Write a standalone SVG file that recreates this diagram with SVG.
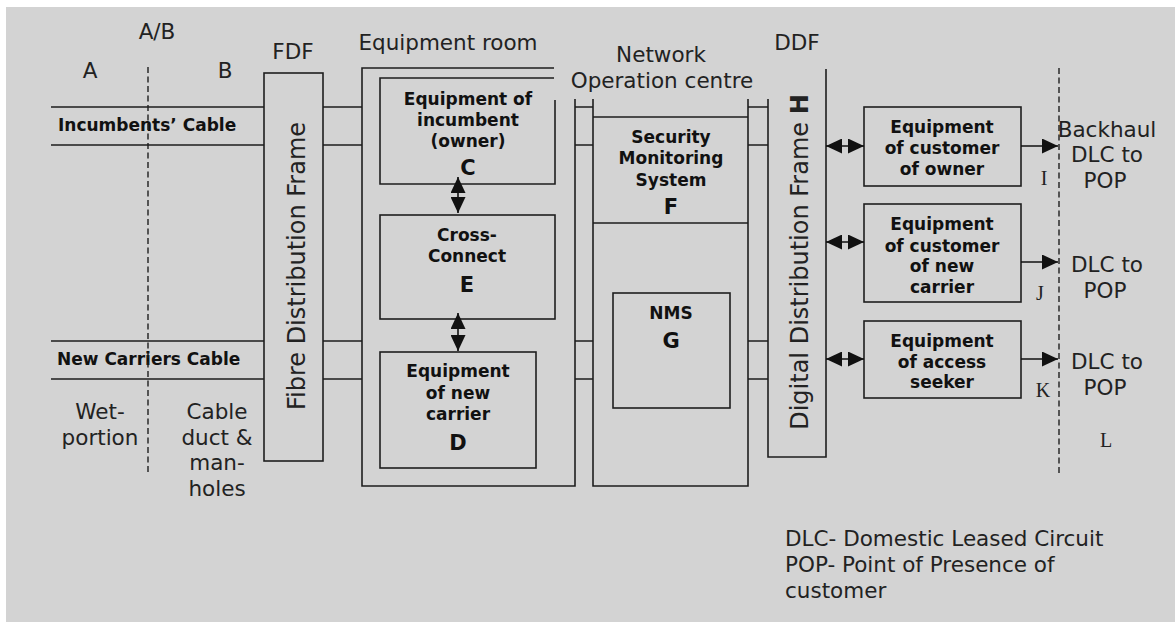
<svg xmlns="http://www.w3.org/2000/svg" width="1175" height="622" viewBox="0 0 1175 622">
<style>
.ln{fill:none;stroke:#1e1e1e;stroke-width:1.6}
.dash{fill:none;stroke:#1e1e1e;stroke-width:1.4;stroke-dasharray:6,3.5}
.lab{font-family:"DejaVu Sans",Verdana,sans-serif;font-size:21.5px;fill:#222}
.bx{font-family:"DejaVu Sans",Verdana,sans-serif;font-size:17px;font-weight:bold;fill:#111;text-anchor:middle}
.big{font-family:"DejaVu Sans",Verdana,sans-serif;font-size:21px;font-weight:bold;fill:#111;text-anchor:middle}
.ser{font-family:"Liberation Serif","Times New Roman",serif;font-size:20px;fill:#222;text-anchor:middle}
.mid{text-anchor:middle}
.vt{font-family:"DejaVu Sans",Verdana,sans-serif;font-size:24px;fill:#222;text-anchor:middle}
.arr{fill:none;stroke:#111;stroke-width:1.6}
</style>
<defs>
<marker id="ah" markerUnits="userSpaceOnUse" viewBox="0 0 16 15" refX="16" refY="7.5" markerWidth="16" markerHeight="15" orient="auto-start-reverse">
<path d="M0,0 L16,7.5 L0,15 z" fill="#111"/>
</marker>
</defs>
<rect x="6" y="7" width="1169" height="615" fill="#d3d3d3"/>

<g id="boundary-AB">
<text class="lab mid" x="157" y="39">A/B</text>
<text class="lab mid" x="90" y="78">A</text>
<text class="lab mid" x="225" y="78">B</text>
<text class="lab mid" x="100" y="419">Wet-</text>
<text class="lab mid" x="100" y="445">portion</text>
<text class="lab mid" x="217" y="419">Cable</text>
<text class="lab mid" x="217" y="445">duct &amp;</text>
<text class="lab mid" x="217" y="470">man-</text>
<text class="lab mid" x="217" y="496">holes</text>
</g>

<g id="cable-incumbent">
<path class="ln" d="M51,107 H264 M51,145 H264"/>
<text class="bx" style="text-anchor:start" x="58" y="131">Incumbents’ Cable</text>
</g>

<g id="cable-new">
<path class="ln" d="M51,341 H264 M51,379 H264"/>
<text class="bx" style="text-anchor:start" x="57" y="365">New Carriers Cable</text>
</g>

<g id="boundary-line-AB">
<path class="dash" d="M148,67 V475"/>
</g>

<g id="fdf">
<text class="lab mid" x="293" y="59">FDF</text>
<rect class="ln" x="264" y="73" width="59" height="388"/>
<text class="vt" transform="translate(305,266) rotate(-90)">Fibre Distribution Frame</text>
</g>

<g id="equipment-room">
<text class="lab mid" x="448" y="50">Equipment room</text>
<path class="ln" d="M554,68 H362 V486 H575 V99"/>
</g>

<g id="node-C">
<path class="ln" d="M554,78 H380 V184 H555 V100"/>
<text class="bx" x="468" y="105">Equipment of</text>
<text class="bx" x="468" y="126">incumbent</text>
<text class="bx" x="468" y="147">(owner)</text>
<text class="big" x="468" y="175">C</text>
</g>

<g id="node-E">
<rect class="ln" x="380" y="215" width="175" height="104"/>
<text class="bx" x="467" y="241">Cross-</text>
<text class="bx" x="467" y="262">Connect</text>
<text class="big" x="467" y="292">E</text>
</g>

<g id="node-D">
<rect class="ln" x="380" y="352" width="156" height="116"/>
<text class="bx" x="458" y="377">Equipment</text>
<text class="bx" x="458" y="399">of new</text>
<text class="bx" x="458" y="420">carrier</text>
<text class="big" x="458" y="450">D</text>
</g>

<g id="noc">
<text class="lab mid" x="661" y="62">Network</text>
<text class="lab mid" x="662" y="88">Operation centre</text>
<path class="ln" d="M593,99 V486 H748 V99"/>
</g>

<g id="node-F">
<path class="ln" d="M593,117 H748 M593,223 H748"/>
<text class="bx" x="671" y="143">Security</text>
<text class="bx" x="671" y="164">Monitoring</text>
<text class="bx" x="671" y="186">System</text>
<text class="big" x="671" y="214">F</text>
</g>

<g id="node-G">
<rect class="ln" x="613" y="293" width="117" height="115"/>
<text class="bx" x="671" y="319">NMS</text>
<text class="big" x="671" y="348">G</text>
</g>

<g id="ddf">
<text class="lab mid" x="797" y="50">DDF</text>
<path class="ln" d="M768,99 V457 H826 V69"/>
<text class="vt" transform="translate(808,262) rotate(-90)">Digital Distribution Frame <tspan font-weight="bold">H</tspan></text>
</g>

<g id="node-I">
<rect class="ln" x="864" y="107" width="157" height="79"/>
<text class="bx" x="942" y="133">Equipment</text>
<text class="bx" x="942" y="154">of customer</text>
<text class="bx" x="942" y="175">of owner</text>
</g>

<g id="node-J">
<rect class="ln" x="864" y="204" width="157" height="98"/>
<text class="bx" x="942" y="230">Equipment</text>
<text class="bx" x="942" y="252">of customer</text>
<text class="bx" x="942" y="272">of new</text>
<text class="bx" x="942" y="293">carrier</text>
</g>

<g id="node-K">
<rect class="ln" x="864" y="321" width="157" height="77"/>
<text class="bx" x="942" y="347">Equipment</text>
<text class="bx" x="942" y="368">of access</text>
<text class="bx" x="942" y="388">seeker</text>
</g>

<g id="boundary-L">
<path class="dash" d="M1059,68 V476"/>
<text class="ser" x="1044" y="185">I</text>
<text class="ser" x="1040" y="300">J</text>
<text class="ser" x="1043" y="397">K</text>
<text class="ser" x="1106" y="447">L</text>
<text class="lab mid" x="1107" y="137">Backhaul</text>
<text class="lab mid" x="1107" y="162">DLC to</text>
<text class="lab mid" x="1105" y="188">POP</text>
<text class="lab mid" x="1107" y="272">DLC to</text>
<text class="lab mid" x="1105" y="298">POP</text>
<text class="lab mid" x="1107" y="369">DLC to</text>
<text class="lab mid" x="1105" y="395">POP</text>
</g>

<g id="connectors">
<path class="ln" d="M323,107 H362 M323,145 H362 M323,341 H362 M323,379 H362"/>
<path class="ln" d="M575,107 H593 M575,145 H593 M575,341 H593 M575,379 H593"/>
<path class="ln" d="M748,107 H768 M748,145 H768 M748,341 H768 M748,379 H768"/>
<path class="arr" d="M458,177 V213" marker-start="url(#ah)" marker-end="url(#ah)"/>
<path class="arr" d="M458,313 V351" marker-start="url(#ah)" marker-end="url(#ah)"/>
<path class="arr" d="M826,146 H864" marker-start="url(#ah)" marker-end="url(#ah)"/>
<path class="arr" d="M826,242 H864" marker-start="url(#ah)" marker-end="url(#ah)"/>
<path class="arr" d="M826,359 H864" marker-start="url(#ah)" marker-end="url(#ah)"/>
<path class="arr" d="M1021,146 H1058" marker-end="url(#ah)"/>
<path class="arr" d="M1021,262 H1058" marker-end="url(#ah)"/>
<path class="arr" d="M1021,359 H1058" marker-end="url(#ah)"/>
</g>

<g id="legend">
<text class="lab" x="785" y="546">DLC- Domestic Leased Circuit</text>
<text class="lab" x="785" y="572">POP- Point of Presence of</text>
<text class="lab" x="785" y="598">customer</text>
</g>
</svg>
